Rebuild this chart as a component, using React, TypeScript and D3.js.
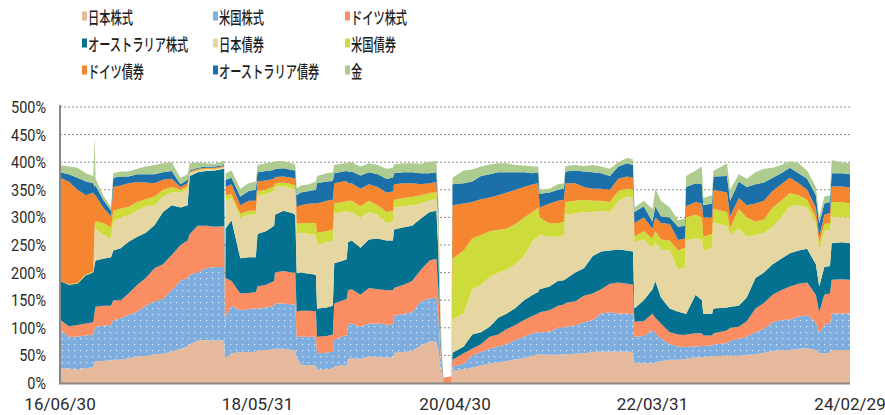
import * as d3 from 'd3';

// observation dates (irregular: month ends plus a few points around jumps)
const dates = [
  '2016-06-30', '2016-07-31', '2016-08-31', '2016-09-30', '2016-10-26', '2016-10-31', '2016-11-03', '2016-11-30', '2016-12-28', '2017-01-05',
  '2017-01-31', '2017-02-28', '2017-03-31', '2017-04-30', '2017-05-31', '2017-06-30', '2017-07-31', '2017-08-31', '2017-09-25', '2017-10-03',
  '2017-10-31', '2017-11-30', '2017-12-31', '2018-02-02', '2018-02-05', '2018-02-07', '2018-02-28', '2018-03-31', '2018-04-30', '2018-05-25',
  '2018-05-31', '2018-06-30', '2018-07-29', '2018-08-01', '2018-08-31', '2018-09-30', '2018-10-12', '2018-10-17', '2018-10-31', '2018-11-30',
  '2018-12-24', '2018-12-28', '2019-01-31', '2019-02-22', '2019-02-27', '2019-03-31', '2019-04-12', '2019-04-17', '2019-04-30', '2019-05-31',
  '2019-06-30', '2019-07-31', '2019-08-31', '2019-09-23', '2019-09-27', '2019-10-31', '2019-11-30', '2019-12-31', '2020-01-31', '2020-02-24',
  '2020-03-02', '2020-03-09', '2020-03-14', '2020-03-20', '2020-04-17', '2020-04-21', '2020-05-31', '2020-06-30', '2020-07-31', '2020-08-31',
  '2020-09-30', '2020-10-31', '2020-11-30', '2020-12-31', '2021-01-31', '2021-02-19', '2021-02-24', '2021-03-31', '2021-04-30', '2021-05-21',
  '2021-05-26', '2021-06-30', '2021-07-31', '2021-08-31', '2021-09-30', '2021-10-31', '2021-11-30', '2021-12-31', '2022-01-21', '2022-01-26',
  '2022-02-28', '2022-03-31', '2022-04-10', '2022-04-30', '2022-05-31', '2022-06-30', '2022-07-24', '2022-07-28', '2022-08-31', '2022-09-22',
  '2022-09-27', '2022-10-28', '2022-11-02', '2022-12-20', '2022-12-31', '2023-01-31', '2023-02-28', '2023-03-31', '2023-04-30', '2023-05-31',
  '2023-06-30', '2023-07-31', '2023-08-31', '2023-09-30', '2023-10-31', '2023-11-12', '2023-11-30', '2023-12-20', '2023-12-26', '2024-01-31',
  '2024-02-29',
];

// allocation (%) per asset
const japanStock = [
  27, 26, 25, 27, 28, 38, 40, 40, 41, 42, 42, 45, 48, 49, 52, 53, 57, 62, 66, 70,
  77, 78, 77, 77, 42, 45, 54, 56, 56, 56, 60, 60, 61, 62, 62, 60, 59, 48, 33, 32,
  32, 24, 25, 26, 30, 32, 32, 44, 45, 44, 48, 47, 46, 46, 55, 56, 58, 68, 75, 75,
  60, 30, 15, 0, 0, 22, 25, 28, 32, 35, 37, 40, 43, 45, 50, 52, 52, 51, 51, 52,
  52, 53, 54, 56, 57, 57, 57, 57, 56, 36, 36, 36, 38, 40, 42, 42, 43, 44, 46, 47,
  47, 48, 49, 50, 50, 50, 51, 52, 55, 58, 60, 60, 62, 63, 60, 54, 54, 55, 60, 60,
  60,
];
const usStock = [
  70, 58, 59, 59, 60, 62, 62, 64, 64, 72, 75, 78, 81, 91, 96, 99, 111, 123, 124, 126,
  123, 130, 133, 133, 53, 75, 86, 76, 78, 79, 75, 77, 79, 82, 82, 82, 83, 36, 51, 52,
  52, 30, 30, 31, 48, 53, 54, 62, 63, 58, 60, 61, 60, 60, 67, 69, 70, 80, 78, 80,
  60, 25, 10, 0, 0, 8, 10, 22, 24, 27, 29, 30, 35, 39, 40, 40, 40, 42, 49, 49,
  50, 51, 56, 58, 69, 71, 69, 69, 68, 48, 49, 60, 52, 40, 28, 24, 22, 21, 20, 20,
  20, 20, 21, 22, 26, 30, 33, 40, 43, 52, 54, 55, 58, 60, 50, 36, 51, 53, 66, 66,
  66,
];
const germanyStock = [
  18, 19, 21, 22, 22, 30, 36, 36, 35, 36, 33, 39, 49, 50, 60, 63, 64, 65, 68, 74,
  85, 77, 73, 74, 13, 70, 45, 30, 29, 30, 40, 41, 45, 56, 59, 58, 58, 45, 47, 47,
  46, 30, 30, 31, 66, 65, 66, 62, 62, 58, 64, 62, 62, 62, 50, 53, 57, 57, 69, 70,
  50, 20, 7, 10, 12, 12, 19, 12, 14, 22, 22, 28, 27, 30, 32, 34, 36, 39, 40, 41,
  43, 44, 48, 48, 44, 52, 56, 54, 54, 27, 27, 30, 28, 28, 22, 22, 22, 23, 24, 23,
  19, 18, 20, 23, 24, 22, 28, 43, 47, 50, 54, 60, 60, 59, 50, 38, 55, 54, 61, 62,
  61,
];
const australiaStock = [
  70, 75, 75, 87, 90, 85, 84, 85, 88, 90, 94, 94, 87, 82, 78, 95, 90, 68, 64, 105,
  97, 99, 102, 104, 4, 90, 110, 64, 65, 63, 95, 97, 100, 105, 109, 108, 105, 70, 69, 67,
  66, 51, 52, 52, 73, 72, 72, 87, 88, 85, 88, 92, 90, 90, 106, 104, 100, 93, 88, 87,
  70, 20, 8, 0, 0, 13, 12, 26, 22, 18, 30, 28, 31, 36, 38, 39, 42, 43, 45, 44,
  43, 52, 50, 68, 68, 60, 60, 60, 60, 24, 38, 44, 67, 47, 43, 41, 39, 37, 70, 60,
  39, 39, 45, 42, 38, 38, 43, 55, 55, 55, 57, 60, 60, 61, 55, 47, 50, 50, 66, 67,
  66,
];
const japanBond = [
  0, 0, 0, 0, 0, 60, 58, 43, 34, 52, 56, 48, 48, 48, 36, 28, 23, 27, 30, 5,
  3, 3, 2, 2, 0, 50, 40, 74, 77, 77, 70, 67, 63, 50, 45, 44, 45, 72, 72, 72,
  72, 115, 118, 118, 90, 88, 87, 55, 52, 55, 50, 43, 32, 34, 40, 38, 37, 27, 21, 21,
  30, 10, 5, 0, 0, 60, 60, 82, 86, 90, 82, 79, 79, 80, 98, 100, 98, 90, 80, 82,
  117, 107, 102, 80, 74, 70, 88, 98, 98, 120, 110, 75, 70, 87, 105, 76, 84, 133, 102, 110,
  115, 120, 155, 148, 130, 140, 110, 78, 72, 68, 75, 85, 82, 75, 75, 66, 65, 65, 48, 45,
  47,
];
const usBond = [
  0, 1, 1, 2, 2, 13, 13, 22, 20, 20, 16, 15, 15, 13, 16, 12, 10, 5, 4, 1,
  1, 1, 1, 1, 0, 10, 7, 7, 7, 7, 8, 8, 8, 7, 6, 8, 8, 18, 17, 20,
  22, 22, 20, 20, 18, 18, 18, 20, 20, 20, 20, 17, 20, 20, 14, 15, 15, 15, 13, 13,
  15, 5, 3, 0, 0, 110, 114, 92, 90, 83, 77, 75, 73, 70, 52, 53, 32, 24, 25, 24,
  23, 23, 22, 20, 18, 18, 18, 14, 14, 10, 15, 17, 20, 18, 18, 35, 35, 42, 43, 40,
  25, 25, 25, 25, 12, 35, 35, 24, 24, 35, 30, 24, 18, 14, 10, 12, 13, 13, 27, 28,
  25,
];
const germanyBond = [
  187, 186, 169, 143, 143, 52, 47, 28, 20, 43, 42, 43, 36, 30, 24, 18, 15, 5, 6, 2,
  2, 2, 2, 2, 0, 15, 18, 15, 18, 18, 17, 17, 14, 11, 11, 12, 12, 30, 33, 35,
  35, 53, 55, 54, 37, 37, 37, 32, 32, 32, 30, 33, 35, 35, 28, 27, 25, 20, 18, 18,
  15, 10, 4, 0, 0, 97, 85, 66, 65, 61, 63, 65, 62, 55, 50, 44, 18, 36, 40, 40,
  34, 32, 23, 22, 22, 22, 22, 22, 22, 25, 25, 18, 25, 30, 30, 19, 17, 20, 23, 25,
  35, 30, 35, 35, 22, 20, 22, 33, 34, 30, 30, 28, 22, 18, 18, 12, 17, 18, 28, 28,
  29,
];
const australiaBond = [
  10, 13, 22, 25, 17, 15, 18, 14, 10, 17, 16, 12, 14, 15, 16, 14, 14, 5, 6, 2,
  2, 2, 2, 2, 0, 13, 12, 16, 18, 20, 17, 17, 16, 15, 15, 14, 15, 21, 23, 23,
  25, 37, 35, 34, 18, 18, 18, 21, 21, 24, 22, 23, 25, 25, 20, 20, 20, 20, 18, 18,
  15, 8, 3, 0, 0, 38, 37, 37, 42, 42, 42, 37, 32, 27, 20, 20, 25, 20, 20, 20,
  21, 23, 28, 30, 28, 25, 22, 24, 23, 20, 20, 12, 20, 12, 12, 24, 23, 35, 34, 35,
  22, 25, 24, 30, 28, 30, 33, 35, 33, 24, 20, 18, 18, 20, 22, 24, 20, 20, 24, 24,
  24,
];
const gold = [
  13, 14, 18, 15, 13, 90, 12, 8, 6, 8, 9, 9, 10, 14, 17, 16, 16, 12, 10, 13,
  10, 6, 5, 7, 0, 12, 13, 14, 14, 15, 13, 14, 14, 14, 13, 12, 11, 12, 13, 12,
  15, 13, 15, 16, 15, 15, 14, 17, 17, 16, 16, 17, 18, 18, 16, 16, 16, 17, 21, 20,
  15, 7, 3, 0, 0, 12, 23, 22, 17, 18, 16, 16, 13, 12, 12, 10, 7, 7, 10, 10,
  10, 10, 10, 13, 12, 13, 8, 10, 10, 8, 10, 23, 32, 28, 18, 12, 13, 20, 23, 32,
  13, 15, 10, 23, 20, 13, 15, 22, 25, 18, 15, 12, 18, 15, 15, 11, 13, 12, 24, 20,
  20,
];

const seriesNames = ['日本株式', '米国株式', 'ドイツ株式', 'オーストラリア株式', '日本債券', '米国債券', 'ドイツ債券', 'オーストラリア債券', '金'];
const seriesValues = [japanStock, usStock, germanyStock, australiaStock, japanBond, usBond, germanyBond, australiaBond, gold];
const colors = ['#E6B99C', '#7DAEDF', '#FB8D62', '#03718F', '#E6D7A2', '#CDDC3A', '#F5862F', '#1B70AA', '#AFCC90'];

const yTicks = [0, 50, 100, 150, 200, 250, 300, 350, 400, 450, 500];
const xTickDates = ['2016-06-30', '2018-05-31', '2020-04-30', '2022-03-31', '2024-02-29'];
const xTickLabels = ['16/06/30', '18/05/31', '20/04/30', '22/03/31', '24/02/29'];

const W = 885;
const H = 415;
const JP_FONT = '"Noto Sans CJK JP", "Noto Sans", sans-serif';
const NUM_FONT = 'Roboto, "Noto Sans", sans-serif';

const AllocationChart = () => {
  const parse = d3.timeParse('%Y-%m-%d');
  const plot = { left: 60, right: 850, top: 107, bottom: 383 };

  const x = d3.scaleTime()
    .domain([parse(dates[0]) as Date, parse(dates[dates.length - 1]) as Date])
    .range([plot.left, plot.right]);
  const y = d3.scaleLinear().domain([0, 500]).range([plot.bottom, plot.top]);

  const keys = seriesNames.map((_, i) => `s${i}`);
  const table = dates.map((d, i) => {
    const row: Record<string, any> = { date: parse(d) };
    seriesValues.forEach((vals, k) => { row[`s${k}`] = vals[i]; });
    return row;
  });
  const stacked = d3.stack<Record<string, any>>().keys(keys)(table);

  const area = d3.area<d3.SeriesPoint<Record<string, any>>>()
    .x(d => x(d.data.date))
    .y0(d => y(d[0]))
    .y1(d => y(d[1]));

  return (
    <svg width={W} height={H} style={{ position: 'absolute', left: 0, top: 0, background: '#fff' }}>
      <defs>
        <pattern id="dots" width="6" height="6" patternUnits="userSpaceOnUse">
          <rect width="6" height="6" fill={colors[1]} />
          <rect x="2" y="2" width="1.2" height="1.2" fill="#fff" opacity="0.75" />
        </pattern>
      </defs>

      {/* legend, 3 x 3 */}
      {seriesNames.map((name, i) => {
        const lx = [82, 213, 345][i % 3];
        const ly = [16, 43, 70][Math.floor(i / 3)];
        return (
          <g key={name}>
            <rect x={lx} y={ly - 4.5} width={5} height={9} fill={colors[i]} />
            <g transform={`translate(${lx + 6},${ly}) scale(0.66,1)`}>
              <text fontFamily={JP_FONT} fontSize={17} fontWeight={500} fill="#1e1e1e" dominantBaseline="central">{name}</text>
            </g>
          </g>
        );
      })}

      {/* grid */}
      {yTicks.filter(t => t > 0).map(t => (
        <line key={t} x1={plot.left} x2={plot.right} y1={y(t)} y2={y(t)}
          stroke="#8a8a8a" strokeWidth={1} strokeDasharray="2,2" />
      ))}

      {/* stacked areas */}
      {stacked.map((s, i) => (
        <path key={s.key} d={area(s) || ''} fill={i === 1 ? 'url(#dots)' : colors[i]} />
      ))}

      {/* axes */}
      <line x1={plot.left} x2={plot.left} y1={plot.top - 2} y2={plot.bottom + 1} stroke="#888" strokeWidth={2} />
      <line x1={plot.left - 1} x2={plot.right} y1={plot.bottom + 0.5} y2={plot.bottom + 0.5} stroke="#888" strokeWidth={2} />

      {yTicks.map(t => (
        <g key={t} transform={`translate(46,${y(t)}) scale(0.85,1)`}>
          <text fontFamily={NUM_FONT} fontSize={17} fill="#2a2a2a" textAnchor="end" dominantBaseline="central">{`${t}%`}</text>
        </g>
      ))}

      {xTickDates.map((d, i) => (
        <g key={d} transform={`translate(${x(parse(d) as Date)},404)`}>
          <text fontFamily={NUM_FONT} fontSize={17} fill="#2a2a2a" textAnchor="middle" dominantBaseline="central">{xTickLabels[i]}</text>
        </g>
      ))}
    </svg>
  );
};

export default function App() {
  return <AllocationChart />;
}
